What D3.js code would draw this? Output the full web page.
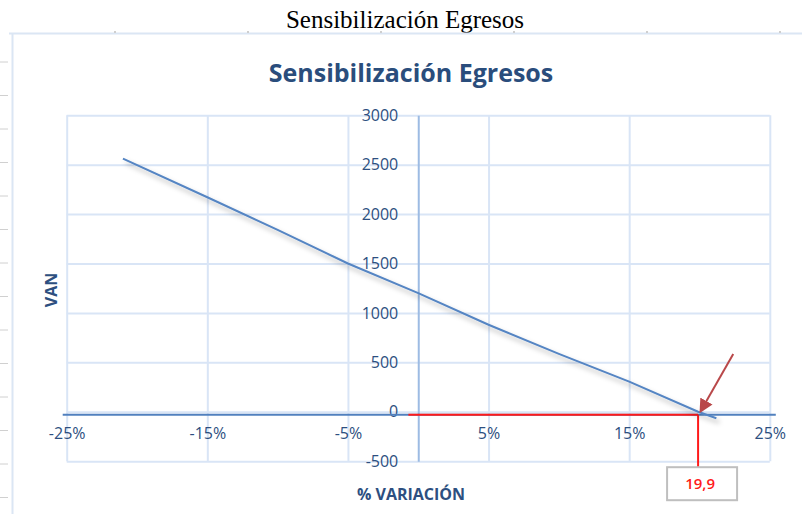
<!DOCTYPE html>
<html>
<head>
<meta charset="utf-8">
<script src="https://cdn.jsdelivr.net/npm/d3@7"></script>
<style>
  body { margin: 0; background: #fff; }
  svg { display: block; }
</style>
</head>
<body>
<div id="chart"></div>
<script>
// datos
var variacion = [-21, -15, -10, -5, 0, 5, 10, 15, 19.9, 21.2];
var van = [2560, 2170, 1840, 1500, 1200, 880, 585, 305, 0, -65];
var xTicks = [-25, -15, -5, 5, 15, 25];
var yTicks = [-500, 0, 500, 1000, 1500, 2000, 2500, 3000];
var puntoCorte = 19.9;
var etiquetaCorte = "19,9";

var W = 802, H = 514;
var azulTexto = "#2d4f80";

var svg = d3.select("#chart").append("svg")
  .attr("width", W)
  .attr("height", H);

// sombra de la serie
var defs = svg.append("defs");
defs.append("filter").attr("id", "sombra")
  .attr("x", "-10%").attr("y", "-10%").attr("width", "130%").attr("height", "140%")
  .append("feDropShadow")
    .attr("dx", 3).attr("dy", 4).attr("stdDeviation", 2.5)
    .attr("flood-color", "#000").attr("flood-opacity", 0.3);
defs.append("marker").attr("id", "flecha")
  .attr("viewBox", "0 0 10 10").attr("refX", 8).attr("refY", 5)
  .attr("markerWidth", 7).attr("markerHeight", 7)
  .attr("markerUnits", "strokeWidth")
  .attr("orient", "auto")
  .append("path").attr("d", "M0,0 L10,5 L0,10 z").attr("fill", "#b9484a");

// leyenda de documento (pie de figura)
svg.append("text")
  .attr("x", 405).attr("y", 28)
  .attr("text-anchor", "middle")
  .style("font-family", "'Liberation Serif', 'Times New Roman', serif")
  .style("font-size", "25px")
  .text("Sensibilización Egresos");

// marco y regla del documento
svg.append("line").attr("x1", 9).attr("x2", W).attr("y1", 33.5).attr("y2", 33.5)
  .attr("stroke", "#dbe6f4").attr("stroke-width", 2);
svg.append("line").attr("x1", 12.5).attr("x2", 12.5).attr("y1", 33).attr("y2", H)
  .attr("stroke", "#dbe6f4").attr("stroke-width", 2);
d3.range(62, H, 33.5).forEach(function(y) {
  svg.append("line").attr("x1", 0).attr("x2", 8).attr("y1", y).attr("y2", y)
    .attr("stroke", "#d0d0d0");
});
d3.range(115, W, 133).forEach(function(x) {
  svg.append("rect").attr("x", x - 1).attr("y", 31).attr("width", 2).attr("height", 2)
    .attr("fill", "#cfcfcf");
});

// titulo
svg.append("text")
  .attr("x", 411).attr("y", 82)
  .attr("text-anchor", "middle")
  .style("font-family", "'Open Sans', sans-serif")
  .style("font-weight", "bold")
  .style("font-size", "25px")
  .attr("fill", "#2a4d7c")
  .text("Sensibilización Egresos");

// escalas
var x = d3.scaleLinear().domain([-25, 25]).range([66.7, 769.8]);
var y = d3.scaleLinear().domain([-500, 3000]).range([461.2, 115.2]);

// rejilla
var grid = svg.append("g");
grid.append("g")
  .attr("transform", "translate(0," + y(-500) + ")")
  .call(d3.axisBottom(x).tickValues(xTicks).tickSize(y(3000) - y(-500)).tickFormat(""))
  .call(function(g) { g.select(".domain").remove(); })
  .selectAll("line").attr("stroke", "#d9e5f6").attr("stroke-width", 2);
grid.append("g")
  .attr("transform", "translate(" + x(-25) + ",0)")
  .call(d3.axisRight(y).tickValues(yTicks).tickSize(x(25) - x(-25)).tickFormat(""))
  .call(function(g) { g.select(".domain").remove(); })
  .selectAll("line").attr("stroke", "#d9e5f6").attr("stroke-width", 2);

// eje Y (en x = 0)
var ejeY = svg.append("g")
  .attr("transform", "translate(" + x(0) + ",0)")
  .call(d3.axisLeft(y).tickValues(yTicks).tickSize(0).tickPadding(20)
    .tickFormat(function(d) { return String(d); }));
ejeY.select(".domain").attr("stroke", "#9dbbe3").attr("stroke-width", 2);
ejeY.selectAll("text")
  .style("font-family", "'Open Sans', sans-serif")
  .style("font-size", "16px")
  .attr("fill", azulTexto);

// eje X (en y = 0)
var ejeX = svg.append("g")
  .attr("transform", "translate(0," + (y(0) + 3) + ")")
  .call(d3.axisBottom(x).tickValues(xTicks).tickSize(0).tickPadding(13)
    .tickFormat(function(d) { return String(d) + "%"; }));
ejeX.select(".domain")
  .attr("d", "M" + (x(-25) - 4) + ",0H" + (x(25) + 6))
  .attr("stroke", "#5180be").attr("stroke-width", 2);
ejeX.selectAll("text")
  .style("font-family", "'Open Sans', sans-serif")
  .style("font-size", "16px")
  .attr("fill", azulTexto);

// titulos de ejes
svg.append("text")
  .attr("transform", "translate(57,290) rotate(-90)")
  .attr("text-anchor", "middle")
  .style("font-family", "'Open Sans', sans-serif")
  .style("font-weight", "bold")
  .style("font-size", "16px")
  .attr("fill", azulTexto)
  .text("VAN");
svg.append("text")
  .attr("x", 411).attr("y", 500)
  .attr("text-anchor", "middle")
  .style("font-family", "'Open Sans', sans-serif")
  .style("font-weight", "bold")
  .style("font-size", "16px")
  .attr("fill", azulTexto)
  .text("% VARIACIÓN");

// lineas rojas del punto de corte
var rojo = svg.append("g").attr("stroke", "#ff1a1a").attr("stroke-width", 2);
rojo.append("line")
  .attr("x1", x(-0.7)).attr("x2", x(puntoCorte))
  .attr("y1", y(0) + 3).attr("y2", y(0) + 3);
rojo.append("line")
  .attr("x1", x(puntoCorte)).attr("x2", x(puntoCorte))
  .attr("y1", y(0) + 3).attr("y2", y(-500) + 6);

// serie
var datos = variacion.map(function(d, i) { return {p: d, v: van[i]}; });
svg.append("path")
  .datum(datos)
  .attr("fill", "none")
  .attr("stroke", "#5585c3")
  .attr("stroke-width", 2)
  .attr("filter", "url(#sombra)")
  .attr("d", d3.line().x(function(d) { return x(d.p); }).y(function(d) { return y(d.v); }));

// flecha
svg.append("line")
  .attr("x1", x(22.4)).attr("y1", y(585))
  .attr("x2", x(20.1)).attr("y2", y(10))
  .attr("stroke", "#b9484a").attr("stroke-width", 2)
  .attr("marker-end", "url(#flecha)");

// caja con el valor
var bx = x(puntoCorte);
svg.append("rect")
  .attr("x", bx - 31).attr("y", y(-500) + 6)
  .attr("width", 70).attr("height", 33)
  .attr("fill", "#fff").attr("stroke", "#bfbfbf").attr("stroke-width", 2);
svg.append("text")
  .attr("x", bx + 2).attr("y", y(-500) + 28)
  .attr("text-anchor", "middle")
  .style("font-family", "'Open Sans', sans-serif")
  .style("font-size", "15px")
  .style("font-weight", "600")
  .attr("fill", "#ff1a1a")
  .text(etiquetaCorte);
</script>
</body>
</html>
